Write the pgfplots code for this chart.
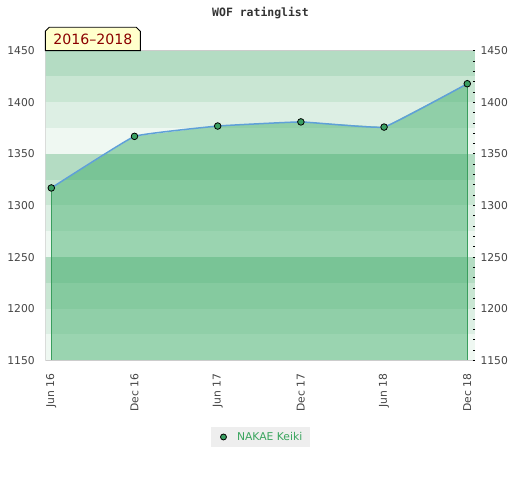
\documentclass[border=0pt]{standalone}
\usepackage{pgfplots}
\pgfplotsset{compat=1.18}
\usepackage{fontspec}
\setmainfont{DejaVu Sans}
\newfontfamily\monofont{DejaVu Sans Mono}
\definecolor{bandA}{HTML}{B4DCC3}
\definecolor{bandB}{HTML}{C9E6D3}
\definecolor{bandC}{HTML}{DDEFE4}
\definecolor{bandD}{HTML}{EFF8F2}
\definecolor{fillg}{RGB}{47,167,93}
\definecolor{edgeg}{HTML}{3A9E5E}
\definecolor{markg}{HTML}{3AA062}
\definecolor{linec}{HTML}{5FA0D8}
\definecolor{labc}{HTML}{444444}
\definecolor{frame}{HTML}{CCCCCC}
\definecolor{boxy}{HTML}{FFFFCC}
\definecolor{boxt}{HTML}{8B0000}
\definecolor{legt}{HTML}{3AA55E}
\definecolor{legbg}{HTML}{EEEEEE}
\begin{document}
\begin{tikzpicture}[x=1bp,y=1bp]
\useasboundingbox (0,0) rectangle (520,480);
\pgfplotsset{
  common/.style={
    at={(45.3bp,119.7bp)}, anchor=south west,
    scale only axis, width=429.7bp, height=309.6bp,
    xmin=-0.072, xmax=5.093, ymin=1150, ymax=1450,
    ytick={1150,1200,...,1450},
    /pgf/number format/assume math mode=true,
    /pgf/number format/1000 sep={},
    tick label style={font=\fontsize{10.8}{12}\selectfont, text=labc},
  }
}
\begin{axis}[common,
  axis line style={draw=none},
  major tick length=0pt,
  xtick={0,...,5},
  xticklabels={Jun 16,Dec 16,Jun 17,Dec 17,Jun 18,Dec 18},
  x tick label style={rotate=90, anchor=east},
  xticklabel shift=10bp,
  yticklabel shift=7bp,
  legend style={at={(0.501,-0.2477)}, anchor=center, fill=legbg, draw=none,
    font=\fontsize{10.8}{12}\selectfont, text=legt,
    inner xsep=0pt, inner ysep=0pt,
    nodes={inner xsep=0pt, inner ysep=0pt, anchor=west},
    /tikz/every odd column/.append style={column sep=0pt}},
]
% background bands
\fill[bandD] (axis cs:-0.072,1150) rectangle (axis cs:5.093,1175);
\fill[bandC] (axis cs:-0.072,1175) rectangle (axis cs:5.093,1200);
\fill[bandB] (axis cs:-0.072,1200) rectangle (axis cs:5.093,1225);
\fill[bandA] (axis cs:-0.072,1225) rectangle (axis cs:5.093,1250);
\fill[bandD] (axis cs:-0.072,1250) rectangle (axis cs:5.093,1275);
\fill[bandC] (axis cs:-0.072,1275) rectangle (axis cs:5.093,1300);
\fill[bandB] (axis cs:-0.072,1300) rectangle (axis cs:5.093,1325);
\fill[bandA] (axis cs:-0.072,1325) rectangle (axis cs:5.093,1350);
\fill[bandD] (axis cs:-0.072,1350) rectangle (axis cs:5.093,1375);
\fill[bandC] (axis cs:-0.072,1375) rectangle (axis cs:5.093,1400);
\fill[bandB] (axis cs:-0.072,1400) rectangle (axis cs:5.093,1425);
\fill[bandA] (axis cs:-0.072,1425) rectangle (axis cs:5.093,1450);
% area
\addplot[forget plot, draw=none, fill=fillg, fill opacity=0.44]
  coordinates {(0,1150) (0,1317) (1,1367) (2,1377) (3,1381) (4,1376) (5,1418) (5,1150)} -- cycle;
\addplot[forget plot, edgeg, line width=1.1bp] coordinates {(0,1150) (0,1317)};
\addplot[forget plot, edgeg, line width=1.1bp] coordinates {(5,1150) (5,1418)};
\addplot[forget plot, linec, line width=1.5bp, smooth, tension=0.15,
  mark=*, mark size=3.3bp, mark options={fill=markg, draw=black, line width=0.8bp}]
  coordinates {(0,1317) (1,1367) (2,1377) (3,1381) (4,1376) (5,1418)};
\addlegendimage{legend image code/.code={
  \path[draw=none, fill=none] (0bp,-9.7bp) rectangle (25.6bp,9.7bp);
  \draw[fill=markg, draw=black, line width=0.8bp] (12bp,0) circle (3bp);}}
\addlegendentry{NAKAE Keiki\hspace*{7.4bp}}
% frame
\draw[frame, line width=1.2bp] (axis cs:-0.072,1450) -- (axis cs:5.093,1450);
\draw[frame, line width=1bp] (axis cs:-0.072,1150) -- (axis cs:5.093,1150);
\draw[frame, line width=1bp] (axis cs:-0.072,1150) -- (axis cs:-0.072,1450);
\end{axis}
\begin{axis}[common,
  axis y line*=right, hide x axis,
  axis line style={draw=none},
  minor y tick num=4,
  tick align=inside,
  major tick length=2.5bp, minor tick length=2.5bp,
  every tick/.style={black, line width=0.8bp},
  yticklabel shift=2bp,
]
\addplot[draw=none, forget plot] coordinates {(0,1150) (5,1450)};
\end{axis}
% title
\node[text=black!80, font=\monofont\bfseries\fontsize{11.5}{12}\selectfont, inner sep=0pt]
  at (260.5,467) {WOF ratinglist};
% range box
\draw[fill=boxy, draw=black, line width=0.9bp]
  (45.3,429.3) -- (45.3,448.7) -- (49.3,452.7) -- (136.3,452.7) -- (140.3,448.7) -- (140.3,429.3) -- cycle;
\node[text=boxt, font=\fontsize{14.2}{16}\selectfont, inner sep=0pt] at (92.8,440.5) {2016–2018};
\end{tikzpicture}
\end{document}
